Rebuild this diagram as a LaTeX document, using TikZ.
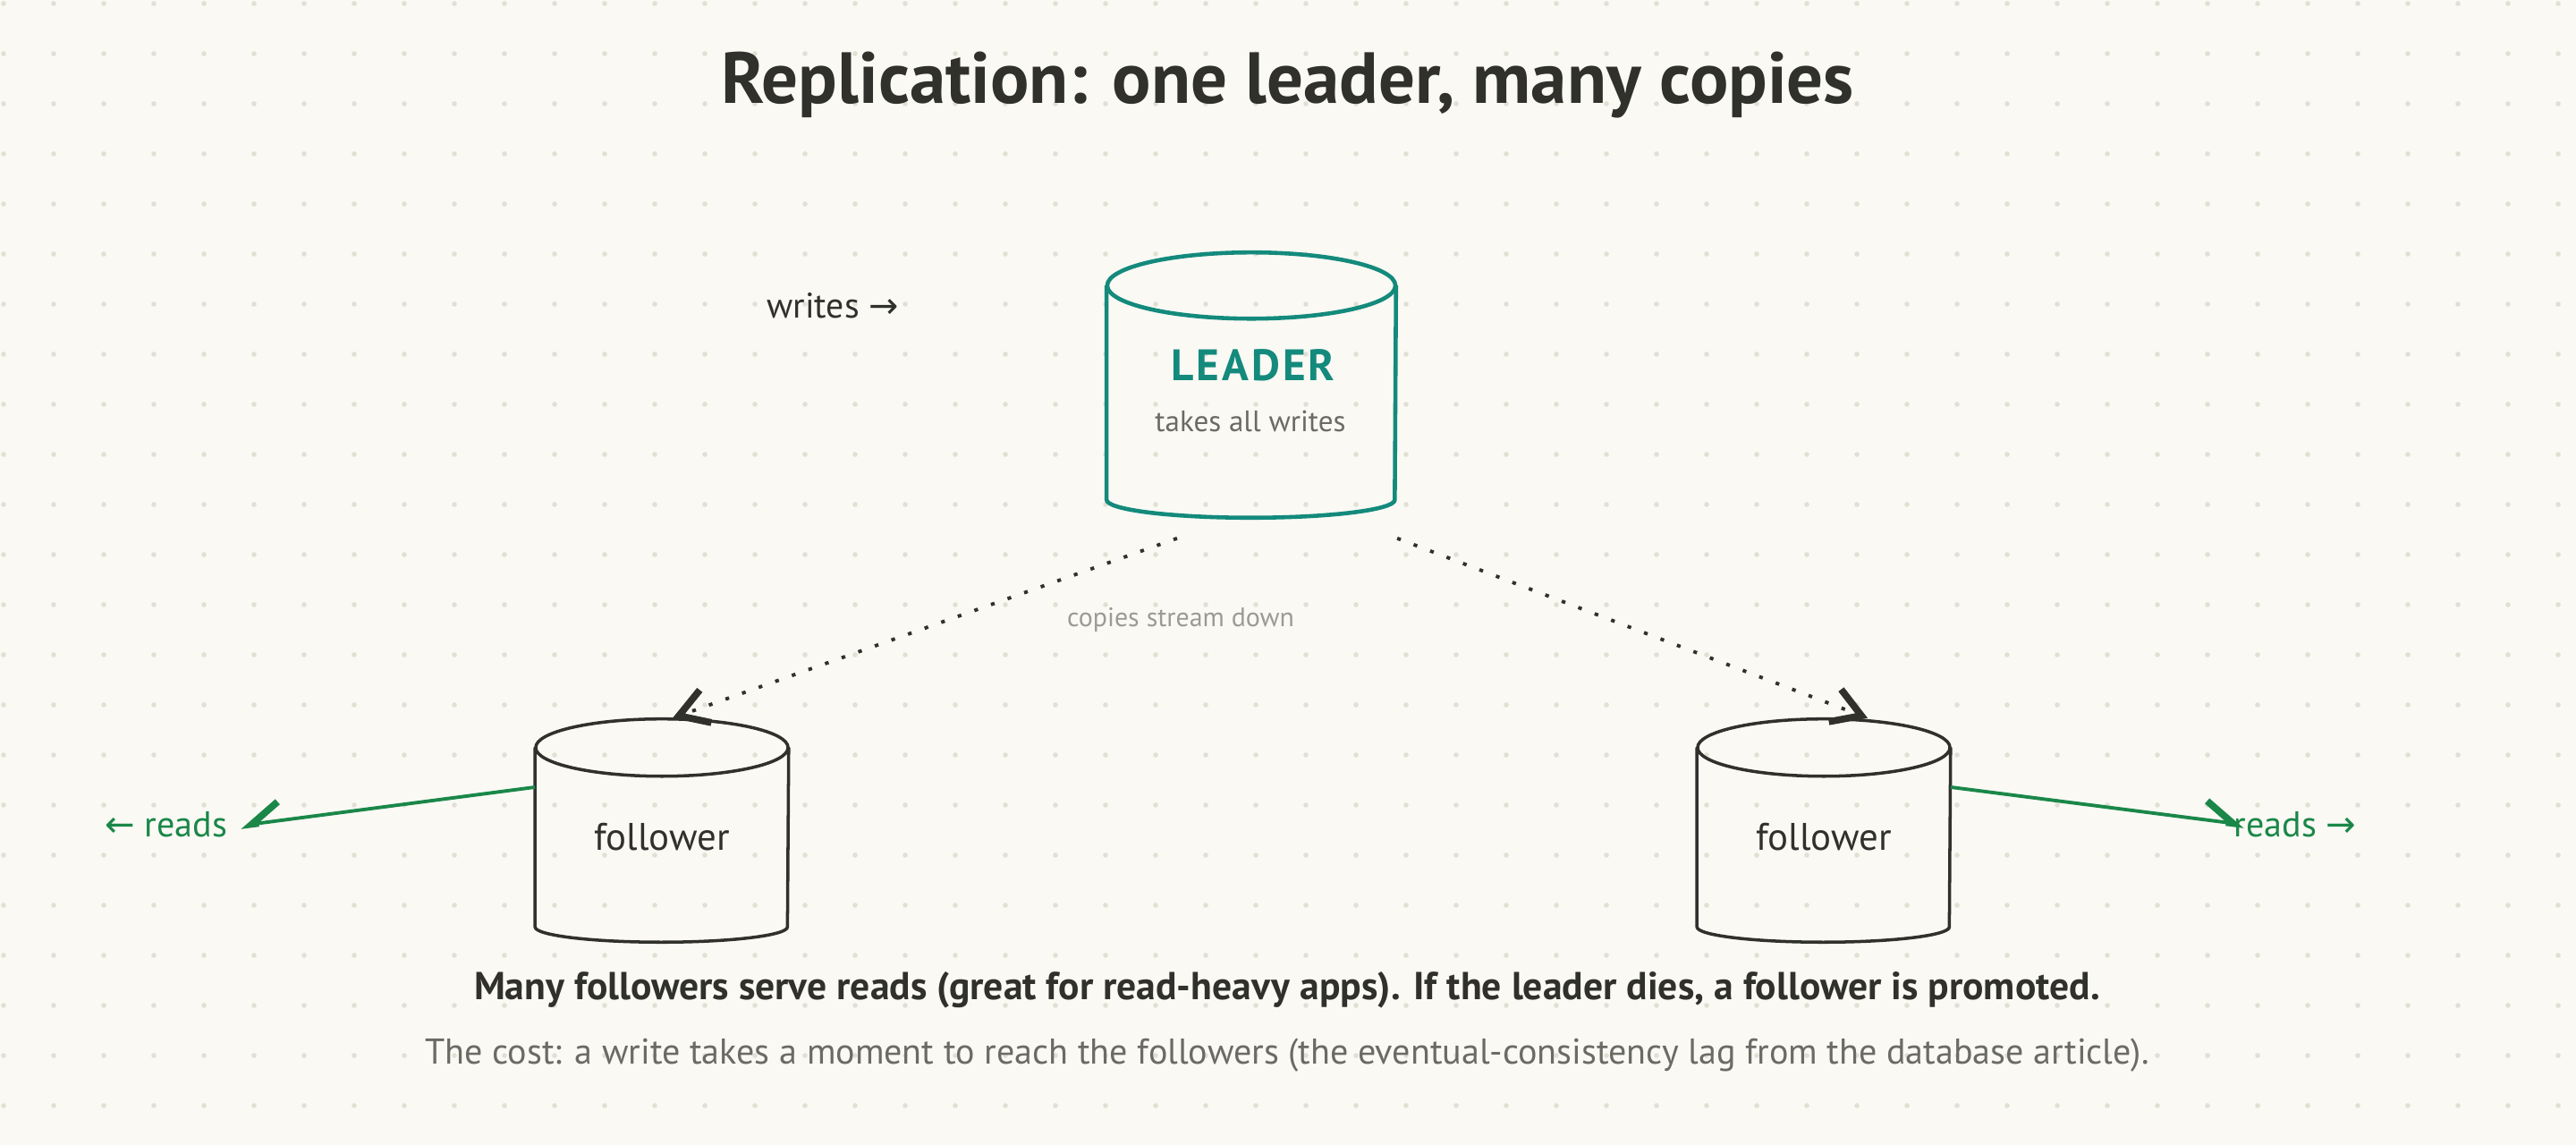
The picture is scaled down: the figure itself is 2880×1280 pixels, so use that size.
\documentclass[tikz,border=0pt]{standalone}
\usepackage{fontspec}
\setmainfont{PT Sans}
\newfontfamily\arrowfont{DejaVu Sans}
\usetikzlibrary{arrows.meta, positioning}
\definecolor{papercol}{HTML}{FAF9F4}
\definecolor{gridcol}{HTML}{E2DFD3}
\definecolor{inkcol}{HTML}{30302C}
\definecolor{leadcol}{HTML}{138A7C}
\definecolor{readcol}{HTML}{1A8748}
\definecolor{notecol}{HTML}{6B6B65}
\definecolor{hintcol}{HTML}{9C9B93}
\tikzset{
  leadbody/.style={rectangle, minimum width=3.22cm, minimum height=2.38cm, inner sep=0pt},
  fbody/.style={rectangle, minimum width=2.82cm, minimum height=1.99cm, inner sep=0pt, text=inkcol, font=\fontsize{12.2}{14}\selectfont},
  leadline/.style={draw=leadcol, line width=1.3pt},
  fline/.style={draw=inkcol, line width=1pt},
  copyline/.style={draw=inkcol, line width=1.1pt, dash pattern=on 1.2pt off 4.4pt, -{Straight Barb[length=9pt, width=11pt, line width=2.2pt]}},
  readline/.style={draw=readcol, line width=1.1pt},
  titletext/.style={text=inkcol, font=\fontsize{23}{27}\selectfont\bfseries},
  sidetext/.style={text=inkcol, font=\fontsize{11.3}{13}\selectfont},
  readtext/.style={text=readcol, font=\fontsize{11.4}{13}\selectfont},
  hinttext/.style={text=hintcol, font=\fontsize{8.5}{10}\selectfont},
  maintext/.style={text=inkcol, font=\fontsize{12.4}{14}\selectfont\bfseries},
  notetext/.style={text=notecol, font=\fontsize{11.4}{13}\selectfont},
}
\begin{document}
\begin{tikzpicture}[x=0.01cm, y=-0.01cm, >=Stealth]
  % paper and dot grid
  \fill[papercol] (0,0) rectangle (2880,1280);
  \foreach \i in {0,...,51}
    \foreach \j in {0,...,22}
      \fill[gridcol] (4+56*\i, 4+56*\j) circle[radius=0.028cm];

  \node[titletext] (title) at (1440,95) {Replication: one leader, many copies};

  % leader
  \node[leadbody] (leader) at (1399,439) {};
  \node[text=leadcol, font=\fontsize{14}{16}\selectfont\bfseries\addfontfeature{LetterSpace=6}] (leadname) at (1401,408) {LEADER};
  \node[text=notecol, font=\fontsize{9.4}{11}\selectfont] (leadnote) at (1398,471) {takes all writes};
  \draw[leadline] (leader.north) ellipse [x radius=1.61cm, y radius=0.37cm];
  \draw[leadline] (leader.north west) -- (leader.south west)
    arc[start angle=180, end angle=360, x radius=1.61cm, y radius=0.2cm] -- (leader.north east);
  \node[sidetext] (writes) at (931,342) {writes {\arrowfont →}};

  % followers
  \node[fbody] (fL) at (740,936) {follower};
  \node[fbody] (fR) at (2039,936) {follower};
  \foreach \f in {fL, fR} {
    \draw[fline] (\f.north) ellipse [x radius=1.41cm, y radius=0.32cm];
    \draw[fline] (\f.north west) -- (\f.south west)
      arc[start angle=180, end angle=360, x radius=1.41cm, y radius=0.17cm] -- (\f.north east);
  }

  % copies
  \draw[copyline] ([shift={(-0.83cm,-0.43cm)}]leader.south) -- ([shift={(0.12cm,0.33cm)}]fL.north);
  \draw[copyline] ([shift={(1.63cm,-0.43cm)}]leader.south) -- ([shift={(0.49cm,0.33cm)}]fR.north);
  \node[hinttext] (copies) at (1320,693) {copies stream down};

  % reads
  \coordinate (readL) at (269,923);
  \coordinate (readR) at (2509,922);
  \draw[readline, -{Straight Barb[harpoon, swap, length=9pt, width=12pt, line width=2.2pt]}] ([yshift=0.56cm]fL.west) -- (readL);
  \draw[readline, -{Straight Barb[harpoon, length=9pt, width=12pt, line width=2.2pt]}] ([yshift=0.56cm]fR.east) -- (readR);
  \node[readtext] (readsL) at (186,922) {{\arrowfont ←} reads};
  \node[readtext] (readsR) at (2566,922) {reads {\arrowfont →}};

  \node[maintext] (summary) at (1439,1107) {Many followers serve reads (great for read-heavy apps). If the leader dies, a follower is promoted.};
  \node[notetext] (cost) at (1439,1180) {The cost: a write takes a moment to reach the followers (the eventual-consistency lag from the database article).};
\end{tikzpicture}
\end{document}
